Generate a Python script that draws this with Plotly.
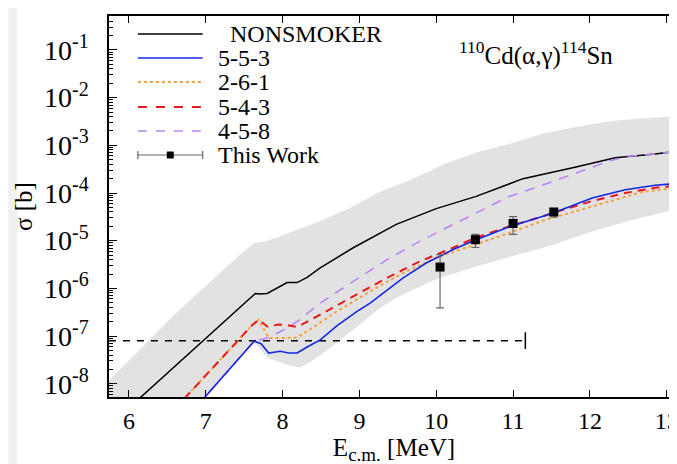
import plotly.graph_objects as go

# ---------------- data ----------------
E_nons = [6.00, 6.50, 7.00, 7.645, 7.70, 7.80, 8.06, 8.19, 8.32, 8.49, 8.92, 9.48, 10.0, 10.52, 11.13, 11.82, 12.33, 12.85, 13.2]
S_nons = [3.1e-9, 1.66e-8, 8.9e-8, 7.8e-7, 7.6e-7, 7.8e-7, 1.32e-6, 1.32e-6, 1.7e-6, 2.7e-6, 7.1e-6, 2.2e-5, 4.7e-5, 8.5e-5, 2.0e-4, 3.5e-4, 5.5e-4, 6.6e-4, 7.8e-4]

E_553 = [6.90, 7.63, 7.72, 7.82, 7.97, 8.08, 8.19, 8.32, 8.49, 8.71, 8.97, 9.14, 9.57, 9.87, 10.22, 10.48, 10.95, 11.38, 11.64, 12.03, 12.46, 12.85, 13.2]
S_553 = [3.6e-9, 7.8e-8, 6.9e-8, 4.4e-8, 4.8e-8, 4.4e-8, 4.4e-8, 5.9e-8, 8.3e-8, 1.66e-7, 3.3e-7, 4.9e-7, 1.66e-6, 3.4e-6, 6.5e-6, 9.8e-6, 1.95e-5, 3.2e-5, 4.5e-5, 7.9e-5, 1.17e-4, 1.45e-4, 1.62e-4]

E_261 = [6.60, 7.30, 7.60, 7.69, 7.82, 8.01, 8.19, 8.32, 8.71, 9.14, 9.57, 10.0, 10.44, 10.95, 11.38, 11.82, 12.25, 12.68, 13.2]
S_261 = [3.0e-9, 4.9e-8, 1.66e-7, 2.2e-7, 9.1e-8, 9.1e-8, 9.3e-8, 1.26e-7, 3.3e-7, 8.7e-7, 2.1e-6, 4.4e-6, 7.6e-6, 1.45e-5, 2.6e-5, 4.2e-5, 6.8e-5, 1.05e-4, 1.32e-4]

E_543 = [6.60, 7.30, 7.60, 7.69, 7.80, 7.95, 8.06, 8.19, 8.32, 8.49, 8.92, 9.36, 9.79, 10.0, 10.22, 10.48, 10.95, 11.38, 11.64, 12.03, 12.46, 12.85, 13.2]
S_543 = [3.0e-9, 4.9e-8, 1.66e-7, 2.2e-7, 1.58e-7, 1.74e-7, 1.7e-7, 1.55e-7, 2.0e-7, 2.8e-7, 6.8e-7, 1.66e-6, 3.7e-6, 5.1e-6, 7.1e-6, 1.1e-5, 2.0e-5, 3.2e-5, 4.4e-5, 6.8e-5, 1.0e-4, 1.29e-4, 1.45e-4]

E_458 = [6.90, 7.63, 7.80, 8.00, 8.19, 8.49, 8.92, 9.36, 9.79, 10.22, 10.65, 10.95, 11.38, 11.82, 12.25, 12.51, 12.85, 13.2]
S_458 = [3.6e-9, 7.8e-8, 9.1e-8, 1.3e-7, 2.0e-7, 4.9e-7, 1.4e-6, 4.0e-6, 9.8e-6, 2.2e-5, 5.0e-5, 8.5e-5, 1.45e-4, 2.6e-4, 4.7e-4, 5.9e-4, 6.6e-4, 7.8e-4]

# uncertainty band (upper edge, lower edge)
E_band_hi = [5.70, 6.16, 6.59, 7.02, 7.45, 7.63, 7.80, 8.06, 8.49, 8.92, 9.23, 9.70, 10.10, 10.52, 11.00, 11.38, 11.80, 12.25, 12.70, 13.20]
S_band_hi = [1.0e-8, 5.6e-8, 2.8e-7, 1.2e-6, 5.1e-6, 8.9e-6, 9.8e-6, 1.41e-5, 2.6e-5, 5.2e-5, 1.0e-4, 2.0e-4, 4.0e-4, 7.1e-4, 1.12e-3, 1.74e-3, 2.4e-3, 3.2e-3, 3.7e-3, 4.1e-3]
E_band_lo = [5.70, 6.90, 7.63, 7.70, 7.80, 8.06, 8.23, 8.41, 8.62, 8.84, 9.05, 9.27, 9.50, 10.0, 10.5, 11.0, 11.5, 12.0, 12.5, 13.2]
S_band_lo = [2.5e-11, 3.6e-9, 7.8e-8, 5.6e-8, 3.5e-8, 2.5e-8, 2.2e-8, 3.2e-8, 5.6e-8, 1.07e-7, 2.0e-7, 3.9e-7, 6.6e-7, 1.58e-6, 2.8e-6, 4.8e-6, 7.9e-6, 1.5e-5, 2.6e-5, 4.9e-5]

# experimental data (This Work)
E_exp = [10.05, 10.51, 11.00, 11.53]
S_exp = [2.8e-6, 1.05e-5, 2.3e-5, 4.0e-5]
S_exp_hi = [5.1e-6, 1.35e-5, 3.2e-5, 4.7e-5]
S_exp_lo = [3.9e-7, 7.2e-6, 1.35e-5, 3.1e-5]

# detection limit line
E_limit = [5.74, 11.16]
S_limit = [8.0e-8, 8.0e-8]

y_tickvals = [1e-8, 1e-7, 1e-6, 1e-5, 1e-4, 1e-3, 1e-2, 1e-1]
y_exponents = ["-8", "-7", "-6", "-5", "-4", "-3", "-2", "-1"]
x_tickvals = [6, 7, 8, 9, 10, 11, 12, 13]

# ---------------- figure ----------------
FONT = "Liberation Serif"
FS_XTICK = 24
FS_YTICK = 28
FS_KEY = 24
FS_TITLE = 25
W, H = 677, 464
L, R, T, B = 101, 4, 8, 75
PW, PH = W - L - R, H - T - B

y_ticktext = ["10<sup><span style='font-size:20px'>%s</span></sup>" % e for e in y_exponents]


def pxx(x):
    return (x - L) / PW


def pxy(y):
    return (H - B - y) / PH


fig = go.Figure()

band_x = E_band_hi + E_band_lo[::-1]
band_y = S_band_hi + S_band_lo[::-1]
fig.add_trace(go.Scatter(x=band_x, y=band_y, fill="toself", fillcolor="#e2e2e2",
                         line=dict(width=0), mode="lines", showlegend=False, hoverinfo="skip"))

fig.add_trace(go.Scatter(x=E_limit, y=S_limit, mode="lines",
                         line=dict(color="black", width=1.5, dash="7px,7px"), showlegend=False))
fig.add_trace(go.Scatter(x=E_limit[1:], y=S_limit[1:], mode="markers",
                         marker=dict(symbol="line-ns-open", size=12, color="black",
                                     line=dict(color="black", width=1.5)),
                         showlegend=False))

fig.add_trace(go.Scatter(x=E_nons, y=S_nons, mode="lines", name="NONSMOKER",
                         line=dict(color="black", width=1.5)))
fig.add_trace(go.Scatter(x=E_458, y=S_458, mode="lines", name="4-5-8",
                         line=dict(color="#b886f2", width=1.6, dash="10px,8px")))
fig.add_trace(go.Scatter(x=E_261, y=S_261, mode="lines", name="2-6-1",
                         line=dict(color="#f5a03c", width=2, dash="3px,3px")))
fig.add_trace(go.Scatter(x=E_543, y=S_543, mode="lines", name="5-4-3",
                         line=dict(color="#e8181c", width=2, dash="8px,6px")))
fig.add_trace(go.Scatter(x=E_553, y=S_553, mode="lines", name="5-5-3",
                         line=dict(color="#1428e0", width=1.6)))

err_plus = [h - s for h, s in zip(S_exp_hi, S_exp)]
err_minus = [s - l for s, l in zip(S_exp, S_exp_lo)]
fig.add_trace(go.Scatter(x=E_exp, y=S_exp, mode="markers", name="This Work",
                         marker=dict(symbol="square", size=9, color="black"),
                         error_y=dict(type="data", array=err_plus, arrayminus=err_minus,
                                      color="#666666", thickness=1.2, width=4)))

# ------------- custom gnuplot-like key -------------
shapes = []
annotations = []
key_rows = [
    ("NONSMOKER", dict(color="black", width=1.5, dash="solid"), 26, 221),
    ("5-5-3", dict(color="#1428e0", width=1.6, dash="solid"), 50, 209),
    ("2-6-1", dict(color="#f5a03c", width=2, dash="dot"), 74, 209),
    ("5-4-3", dict(color="#e8181c", width=2, dash="dash"), 99, 209),
    ("4-5-8", dict(color="#b886f2", width=1.6, dash="dash"), 123, 209),
]
for label, ln, yy, tx in key_rows:
    shapes.append(dict(type="line", xref="paper", yref="paper",
                       x0=pxx(130), x1=pxx(195), y0=pxy(yy), y1=pxy(yy), line=ln))
    annotations.append(dict(text=label, xref="paper", yref="paper", x=pxx(tx), y=pxy(yy),
                            xanchor="left", yanchor="middle", showarrow=False, borderpad=0,
                            font=dict(family=FONT, size=FS_KEY, color="black")))
# This Work key entry
yy = 147
gl = dict(color="#666666", width=1.2)
shapes.append(dict(type="line", xref="paper", yref="paper", x0=pxx(130), x1=pxx(195),
                   y0=pxy(yy), y1=pxy(yy), line=gl))
for xx in (130, 195):
    shapes.append(dict(type="line", xref="paper", yref="paper", x0=pxx(xx), x1=pxx(xx),
                       y0=pxy(yy - 4), y1=pxy(yy + 4), line=gl))
shapes.append(dict(type="rect", xref="paper", yref="paper", x0=pxx(159), x1=pxx(166),
                   y0=pxy(yy + 3.5), y1=pxy(yy - 3.5), fillcolor="black", line=dict(width=0)))
annotations.append(dict(text="This Work", xref="paper", yref="paper", x=pxx(209), y=pxy(yy),
                        xanchor="left", yanchor="middle", showarrow=False, borderpad=0,
                        font=dict(family=FONT, size=FS_KEY, color="black")))

# reaction label
annotations.append(dict(text="<sup>110</sup>Cd(α,γ)<sup>114</sup>Sn", xref="paper", yref="paper",
                        x=pxx(529), y=pxy(46), xanchor="center", yanchor="middle", showarrow=False,
                        font=dict(family=FONT, size=25, color="black")))

# faint strip at the left border of the scan
shapes.append(dict(type="rect", xref="paper", yref="paper", x0=pxx(0), x1=pxx(9),
                   y0=pxy(H), y1=pxy(0), fillcolor="#f0f0f0", line=dict(width=0), layer="below"))

fig.update_layout(
    width=W, height=H,
    margin=dict(l=L, r=R, t=T, b=B),
    paper_bgcolor="white", plot_bgcolor="white",
    showlegend=False,
    font=dict(family=FONT, size=FS_XTICK, color="black"),
    shapes=shapes, annotations=annotations,
)

fig.update_xaxes(
    range=[5.741, 13.16], tickvals=x_tickvals, ticks="inside", ticklen=7, tickwidth=1,
    tickcolor="black", showline=True, linecolor="black", linewidth=1.5, mirror="allticks",
    showgrid=False, zeroline=False, tickfont=dict(family=FONT, size=FS_XTICK),
    ticklabelstandoff=1,
    title=dict(text="E<sub><span style='font-size:19px'>c.m.</span></sub> [MeV]",
               font=dict(family=FONT, size=FS_TITLE), standoff=0),
)
fig.update_yaxes(
    type="log", range=[-8.279, -0.287], tickvals=y_tickvals, ticktext=y_ticktext,
    ticks="inside", ticklen=8, tickwidth=1, tickcolor="black",
    minor=dict(ticks="inside", ticklen=4, tickcolor="black", dtick="D1", showgrid=False),
    showline=True, linecolor="black", linewidth=1.5, mirror="allticks",
    showgrid=False, zeroline=False, tickfont=dict(family=FONT, size=FS_YTICK),
    ticklabelstandoff=13,
    title=dict(text="σ [b]", font=dict(family=FONT, size=FS_TITLE), standoff=4),
)

fig.write_html("out.html")
